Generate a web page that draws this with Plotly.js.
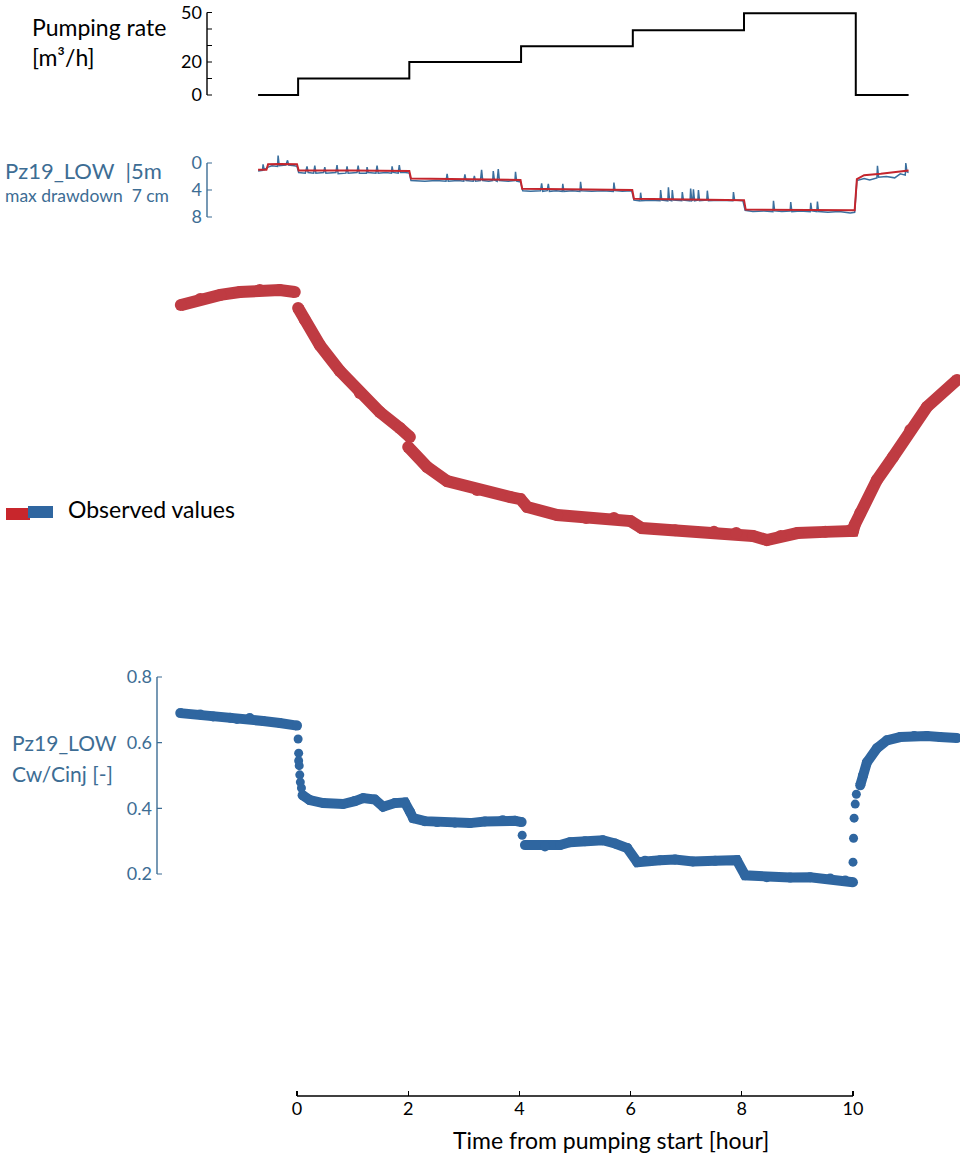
<!DOCTYPE html>
<html>
<head>
<meta charset="utf-8">
<script src="https://cdn.plot.ly/plotly-3.0.1.min.js"></script>
<style>
html,body{margin:0;padding:0;background:#fff;}
#chart{width:962px;height:1158px;}
</style>
</head>
<body>
<div id="chart"></div>
<script>
// ---------------- DATA ----------------
// Pumping rate steps [m3/h] (line shape 'hv')
const pumpTime = [-0.7, 0.02, 2.02, 4.03, 6.04, 8.04, 10.05, 11.0];
const pumpRate = [0, 10, 20, 29.5, 39.3, 49.6, 0, 0];

// Pz19_LOW drawdown [cm] - simulated (red)
const ddSimTime = [-0.7, -0.55, -0.52, -0.3, 0.0, 0.03, 1.0, 2.02, 2.05, 3.0, 4.02, 4.05, 5.0, 6.03, 6.06, 7.0, 8.04, 8.07, 9.0, 10.03, 10.07, 10.2, 10.5, 10.8, 11.0];
const ddSimVal  = [1.0, 1.0, 0.2, 0.15, 0.2, 1.1, 1.1, 1.2, 2.3, 2.4, 2.5, 3.8, 3.9, 4.0, 5.3, 5.4, 5.5, 6.9, 7.0, 7.0, 2.4, 1.8, 1.6, 1.3, 1.1];

// Pz19_LOW drawdown [cm] - observed (blue)
const ddObsTime = [-0.70,-0.62,-0.61,-0.59,-0.52,-0.45,-0.35,-0.34,-0.32,-0.20,-0.17,-0.15,-0.05,0.00,
  0.03,0.15,0.18,0.20,0.30,0.32,0.34,0.48,0.50,0.52,0.70,0.72,0.74,0.88,0.90,0.92,1.08,1.10,1.12,1.25,1.26,1.28,1.42,1.44,1.46,1.60,1.70,1.71,1.73,1.82,1.84,1.86,1.95,2.02,
  2.05,2.30,2.50,2.68,2.70,2.72,2.90,3.00,3.02,3.04,3.17,3.19,3.21,3.30,3.32,3.34,3.45,3.52,3.53,3.55,3.60,3.62,3.64,3.80,3.92,3.93,3.95,4.02,
  4.06,4.20,4.38,4.40,4.42,4.50,4.52,4.54,4.66,4.77,4.78,4.80,4.95,5.09,5.10,5.12,5.30,5.50,5.69,5.70,5.72,5.85,6.02,
  6.06,6.17,6.18,6.20,6.35,6.53,6.54,6.56,6.67,6.68,6.70,6.74,6.75,6.77,6.92,6.93,6.95,7.07,7.08,7.10,7.12,7.13,7.15,7.21,7.22,7.24,7.37,7.38,7.40,7.60,7.84,7.85,7.87,8.02,
  8.06,8.20,8.40,8.56,8.57,8.59,8.72,8.87,8.88,8.90,9.05,9.23,9.24,9.26,9.35,9.36,9.38,9.55,9.75,9.95,10.03,
  10.07,10.20,10.30,10.43,10.44,10.46,10.60,10.75,10.85,10.94,10.95,10.97,11.00];
const ddObsVal = [1.2,1.1,0.2,1.0,0.6,0.4,0.5,-1.1,0.4,0.3,-0.4,0.3,0.4,0.5,
  1.4,1.5,0.5,1.4,1.5,0.4,1.5,1.4,0.6,1.5,1.4,0.3,1.6,1.5,0.5,1.5,1.4,0.4,1.5,1.5,0.6,1.4,1.5,0.4,1.5,1.4,1.5,0.5,1.4,1.5,0.3,1.4,1.4,1.5,
  2.6,2.7,2.6,2.7,1.6,2.7,2.6,2.7,1.7,2.6,2.7,1.9,2.7,2.6,1.0,2.6,2.7,2.6,1.2,2.5,2.7,0.9,2.6,2.7,2.6,1.3,2.7,2.8,
  4.1,4.2,4.1,3.0,4.2,4.1,3.1,4.2,4.1,4.2,3.1,4.2,4.1,4.2,2.8,4.1,4.2,4.1,4.2,2.9,4.1,4.2,4.1,
  5.5,5.6,4.4,5.6,5.5,5.6,4.0,5.5,5.6,3.6,5.5,5.6,4.0,5.5,5.6,4.3,5.5,5.6,3.8,5.6,5.5,3.9,5.6,5.5,4.0,5.6,5.5,4.1,5.6,5.5,5.6,4.3,5.5,5.6,
  7.0,7.2,7.1,7.2,5.6,7.1,7.2,7.1,5.8,7.2,7.1,7.2,5.9,7.1,7.2,5.7,7.2,7.3,7.2,7.4,7.3,
  2.6,2.3,2.5,2.2,0.4,2.1,2.0,2.2,1.6,1.8,0.0,1.3,1.4];

// Observed values - red signal (relative units, hidden axis)
const sigTime = [-2.09,-1.74,-1.38,-1.03,-0.67,-0.31,-0.04, null,
  0.02,0.14,0.41,0.77,1.13,1.49,1.85,2.03, null,
  2.00,2.34,2.70,3.24,3.84,4.02,4.14,4.68,5.20,5.70,6.00,6.20,6.80,7.50,7.90,8.20,8.45,8.70,9.00,9.50,9.95,10.00,10.03,10.13,10.43,10.72,11.03,11.33,11.87];
const sigVal  = [0.879,0.900,0.914,0.924,0.931,0.931,0.924, null,
  0.869,0.828,0.741,0.652,0.576,0.510,0.455,0.424, null,
  0.390,0.321,0.272,0.241,0.217,0.210,0.183,0.155,0.145,0.145,0.134,0.110,0.103,0.097,0.093,0.083,0.069,0.083,0.093,0.097,0.103,0.100,0.121,0.162,0.276,0.355,0.448,0.528,0.621];

// Pz19_LOW Cw/Cinj [-] (blue), continuous runs
const cwTime = [-2.10,-1.74,-1.51,-1.20,-1.08,-0.85,-0.61,-0.31,0.00, null,
  0.10,0.23,0.47,0.83,1.04,1.19,1.40,1.55,1.76,1.94,2.03,2.09,2.30,2.52,2.84,3.11,3.38,3.70,3.92,4.04, null,
  4.10,4.46,4.73,4.91,5.18,5.50,5.72,5.94,6.12,6.26,6.53,6.80,7.12,7.52,7.91,8.06,8.45,8.87,9.23,9.59,9.86,10.00, null,
  10.13,10.18,10.25,10.43,10.61,10.85,11.10,11.33,11.56,11.87];
const cwRatio = [0.690,0.686,0.680,0.676,0.672,0.675,0.666,0.660,0.652, null,
  0.440,0.425,0.416,0.413,0.422,0.431,0.427,0.405,0.416,0.418,0.390,0.370,0.361,0.358,0.356,0.355,0.360,0.364,0.362,0.358, null,
  0.288,0.284,0.288,0.297,0.300,0.303,0.293,0.279,0.236,0.240,0.242,0.244,0.238,0.240,0.242,0.196,0.190,0.189,0.190,0.186,0.180,0.175, null,
  0.470,0.500,0.540,0.583,0.607,0.617,0.620,0.620,0.617,0.614];
// Cw/Cinj isolated points during fast changes
const cwJumpTime  = [0.02,0.03,0.03,0.04,0.05,0.06,0.08, 4.05, 10.00,10.01,10.02,10.04,10.06];
const cwJumpRatio = [0.611,0.568,0.545,0.530,0.502,0.480,0.462, 0.318, 0.236,0.309,0.370,0.413,0.443];

const pumpTicks = [0,10,20,30,40,50];
const pumpTickText = ['0','','20','','','50'];
const ddTicks = [0,4,8];
const cwTicks = [0.2,0.4,0.6,0.8];
const timeTicks = [0,2,4,6,8,10];

// ---------------- LAYOUT HELPERS ----------------
const W = 962, H = 1158, ML = 100, MR = 2;
const plotW = W - ML - MR;
const T0PX = 297, T10PX = 853, pxPerH = (T10PX - T0PX) / 10;
const xRange = [(ML - T0PX) / pxPerH, (W - MR - T0PX) / pxPerH];
const py = y => 1 - y / H;
const pxp = x => (x - ML) / plotW;
function dom(vA, yA, vB, yB, lo, hi) {
  const s = (yB - yA) / (vB - vA);
  const a = py(yA + (lo - vA) * s), b = py(yA + (hi - vA) * s);
  return [Math.min(a, b), Math.max(a, b)];
}

const FONT = 'Lato, "Open Sans", sans-serif';
const STEEL = '#3d6d94';
const RED = '#bf3b42';
const BLUE = '#2f66a0';

const yPumpPos = pxp(207);
const yCwPos = pxp(157);
const TICKPX = 5 / plotW;

const traces = [
  {x: pumpTime, y: pumpRate, xaxis: 'x', yaxis: 'y', mode: 'lines', line: {shape: 'hv', color: '#000', width: 2}, hoverinfo: 'skip', showlegend: false},
  {x: ddObsTime, y: ddObsVal, xaxis: 'x', yaxis: 'y2', mode: 'lines', line: {color: '#3a6f9e', width: 1.5}, showlegend: false},
  {x: ddSimTime, y: ddSimVal, xaxis: 'x', yaxis: 'y2', mode: 'lines', line: {color: '#c4252d', width: 2}, showlegend: false},
  {x: sigTime, y: sigVal, xaxis: 'x', yaxis: 'y3', mode: 'lines+markers', connectgaps: false,
   line: {color: RED, width: 12}, marker: {color: RED, size: 12}, showlegend: false},
  {x: cwTime, y: cwRatio, xaxis: 'x', yaxis: 'y4', mode: 'lines+markers', connectgaps: false,
   line: {color: BLUE, width: 10}, marker: {color: BLUE, size: 10}, showlegend: false},
  {x: cwJumpTime, y: cwJumpRatio, xaxis: 'x', yaxis: 'y4', mode: 'markers',
   marker: {color: BLUE, size: 9}, showlegend: false}
];

const hiddenAxis = {showgrid: false, zeroline: false, showline: false, showticklabels: false, ticks: ''};
const TICKSZ = 18;

// bracket-style y axes: vertical line + ticks pointing right (decoration built from tick arrays)
function bracket(yref, pos, vals, color) {
  const lo = Math.min(...vals), hi = Math.max(...vals);
  const out = [{type: 'line', xref: 'paper', yref: yref, x0: pos, x1: pos, y0: lo, y1: hi, line: {color: color, width: 1.4}}];
  vals.forEach(v => out.push({type: 'line', xref: 'paper', yref: yref, x0: pos, x1: pos + TICKPX, y0: v, y1: v, line: {color: color, width: 1.2}}));
  return out;
}

const layout = {
  width: W, height: H,
  margin: {l: ML, r: MR, t: 0, b: 0},
  paper_bgcolor: '#fff', plot_bgcolor: 'rgba(0,0,0,0)',
  font: {family: FONT, color: '#000'},
  showlegend: false,
  xaxis: {
    range: xRange, anchor: 'free', position: py(1096),
    showgrid: false, zeroline: false, showline: false,
    tickvals: timeTicks, ticks: 'inside', ticklen: 5, tickwidth: 1.2, tickcolor: '#000',
    tickfont: {size: TICKSZ, color: '#000', family: FONT}
  },
  yaxis: {
    range: [-2, 52], domain: dom(0, 95, 50, 12.5, -2, 52),
    anchor: 'free', position: yPumpPos,
    showgrid: false, zeroline: false, showline: false,
    tickvals: pumpTicks, ticktext: pumpTickText, ticks: '', ticklabelstandoff: 5,
    tickfont: {size: TICKSZ, color: '#000', family: FONT}
  },
  yaxis2: {
    range: [9.5, -2], domain: dom(0, 163, 8, 217, 9.5, -2),
    anchor: 'free', position: yPumpPos,
    showgrid: false, zeroline: false, showline: false,
    tickvals: ddTicks, ticks: '', ticklabelstandoff: 5,
    tickfont: {size: TICKSZ, color: STEEL, family: FONT}
  },
  yaxis3: Object.assign({range: [0, 1], domain: dom(0, 560, 1, 270, 0, 1), anchor: 'x'}, hiddenAxis),
  yaxis4: {
    range: [0.15, 0.82], domain: dom(0.8, 677, 0.2, 874, 0.15, 0.82),
    anchor: 'free', position: yCwPos,
    showgrid: false, zeroline: false, showline: false,
    tickvals: cwTicks, ticktext: ['0.2', '0.4', '0.6', '0.8'], ticks: '', ticklabelstandoff: 5,
    tickfont: {size: TICKSZ, color: STEEL, family: FONT}
  },
  shapes: [].concat(
    bracket('y', yPumpPos, pumpTicks, '#000'),
    bracket('y2', yPumpPos, ddTicks, STEEL),
    bracket('y4', yCwPos, cwTicks, STEEL),
    [
      {type: 'line', xref: 'x', yref: 'paper', x0: 0, x1: 10, y0: py(1096), y1: py(1096), line: {color: '#000', width: 1.4}},
      // legend swatch
      {type: 'rect', xref: 'paper', yref: 'paper', x0: pxp(6), x1: pxp(30), y0: py(520), y1: py(508), fillcolor: '#c8262c', line: {width: 0}},
      {type: 'rect', xref: 'paper', yref: 'paper', x0: pxp(28), x1: pxp(53), y0: py(518), y1: py(506), fillcolor: BLUE, line: {width: 0}}
    ]
  ),
  annotations: [
    {text: 'Pumping rate', xref: 'paper', yref: 'paper', x: pxp(30), y: py(27), xanchor: 'left', yanchor: 'middle', showarrow: false, font: {size: 23, color: '#000', family: FONT}},
    {text: '[m³/h]', xref: 'paper', yref: 'paper', x: pxp(30), y: py(57), xanchor: 'left', yanchor: 'middle', showarrow: false, font: {size: 23, color: '#000', family: FONT}},
    {text: 'Pz19_LOW  |5m', xref: 'paper', yref: 'paper', x: pxp(3), y: py(170), xanchor: 'left', yanchor: 'middle', showarrow: false, font: {size: 22, color: STEEL, family: FONT}},
    {text: 'max drawdown  7 cm', xref: 'paper', yref: 'paper', x: pxp(3), y: py(196), xanchor: 'left', yanchor: 'middle', showarrow: false, font: {size: 17.5, color: STEEL, family: FONT}},
    {text: 'Observed values', xref: 'paper', yref: 'paper', x: pxp(66), y: py(509), xanchor: 'left', yanchor: 'middle', showarrow: false, font: {size: 23, color: '#000', family: FONT}},
    {text: 'Pz19_LOW', xref: 'paper', yref: 'paper', x: pxp(10), y: py(742), xanchor: 'left', yanchor: 'middle', showarrow: false, font: {size: 21, color: STEEL, family: FONT}},
    {text: 'Cw/Cinj [-]', xref: 'paper', yref: 'paper', x: pxp(10), y: py(773), xanchor: 'left', yanchor: 'middle', showarrow: false, font: {size: 21, color: STEEL, family: FONT}},
    {text: 'Time from pumping start [hour]', xref: 'paper', yref: 'paper', x: pxp(611), y: py(1140), xanchor: 'center', yanchor: 'middle', showarrow: false, font: {size: 23, color: '#000', family: FONT}}
  ]
};

Plotly.newPlot('chart', traces, layout, {staticPlot: true, displayModeBar: false});
</script>
</body>
</html>
